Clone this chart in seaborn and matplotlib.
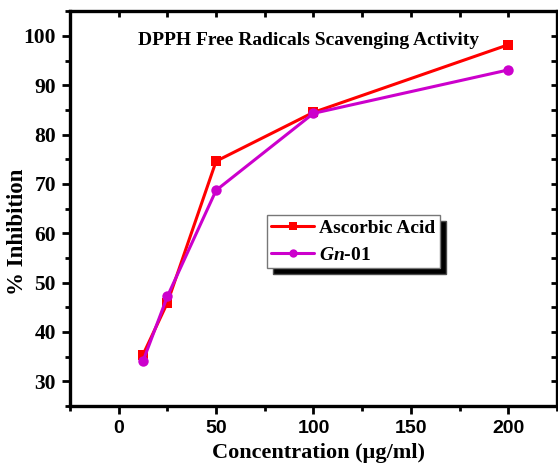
import matplotlib
matplotlib.use("Agg")
import matplotlib.pyplot as plt
import seaborn as sns
import pandas as pd
from matplotlib.ticker import MultipleLocator

concentration = [12.5, 25, 50, 100, 200]
ascorbic = [35.4, 45.9, 74.6, 84.5, 98.2]
gn01 = [34.1, 47.2, 68.7, 84.3, 93.1]
series_names = ["Ascorbic Acid", "$Gn$-01"]

df = pd.concat([
    pd.DataFrame({"x": concentration, "y": ascorbic, "s": series_names[0]}),
    pd.DataFrame({"x": concentration, "y": gn01, "s": series_names[1]}),
])

sns.set_style("ticks")
plt.rcParams["font.family"] = ["Liberation Serif", "DejaVu Serif"]
plt.rcParams["font.weight"] = "bold"
plt.rcParams["mathtext.fontset"] = "custom"
plt.rcParams["mathtext.it"] = "Liberation Serif:italic:bold"
plt.rcParams["mathtext.rm"] = "Liberation Serif:bold"
for k in ["text.color", "axes.labelcolor", "xtick.color", "ytick.color", "axes.edgecolor"]:
    plt.rcParams[k] = "black"

fig = plt.figure(figsize=(5.58, 4.66), dpi=100)
ax = fig.add_axes([0.1254, 0.1288, 0.8728, 0.8472])

sns.lineplot(data=df, x="x", y="y", hue="s", style="s",
             palette={series_names[0]: "#ff0000", series_names[1]: "#cc00cc"},
             markers={series_names[0]: "s", series_names[1]: "o"},
             dashes=False, linewidth=2.2, markersize=7.5, markeredgewidth=0,
             ax=ax, legend=True)

ax.set_xlim(-25, 225)
ax.set_ylim(25, 105)
ax.xaxis.set_major_locator(MultipleLocator(50))
ax.xaxis.set_minor_locator(MultipleLocator(25))
ax.yaxis.set_major_locator(MultipleLocator(10))
ax.yaxis.set_minor_locator(MultipleLocator(5))

for sp in ax.spines.values():
    sp.set_visible(True)
    sp.set_linewidth(2.4)
    sp.set_color("black")

ax.tick_params(which="major", direction="out", length=6, width=2, colors="black",
               top=False, right=False, pad=4)
ax.tick_params(which="minor", direction="out", length=3.5, width=2, colors="black",
               top=False, right=False)
for lab in ax.get_xticklabels():
    lab.set_fontfamily("Liberation Sans")
    lab.set_fontweight("bold")
    lab.set_fontsize(14)
for lab in ax.get_yticklabels():
    lab.set_fontfamily("Liberation Serif")
    lab.set_fontweight("bold")
    lab.set_fontsize(15.5)

# inward ticks on top / right
axt = ax.secondary_xaxis("top")
axt.xaxis.set_major_locator(MultipleLocator(25))
axt.tick_params(direction="in", length=4, width=2, labeltop=False)
axr = ax.secondary_yaxis("right")
axr.yaxis.set_major_locator(MultipleLocator(5))
axr.tick_params(direction="in", length=4, width=2, labelright=False)
axt.spines["top"].set_visible(False)
axr.spines["right"].set_visible(False)

ax.set_xlabel("Concentration (\u00b5g/ml)", fontsize=16, fontweight="bold", va="center")
ax.set_ylabel("% Inhibition", fontsize=16.5, fontweight="bold", va="center")
ax.xaxis.set_label_coords(0.51, -0.119)
ax.yaxis.set_label_coords(-0.108, 0.44)
ax.text(0.49, 0.927, "DPPH Free Radicals Scavenging Activity", transform=ax.transAxes,
        ha="center", va="center", fontsize=14, fontweight="bold")

handles, labels = ax.get_legend_handles_labels()
leg = ax.legend(handles, labels, loc="upper left", bbox_to_anchor=(0.4045, 0.4835),
                borderaxespad=0,
                frameon=True, fancybox=False, edgecolor="#777777", framealpha=1,
                shadow={"ox": 4.3, "oy": -4.3, "facecolor": "black", "alpha": 1},
                prop={"family": "Liberation Serif", "weight": "bold", "size": 14},
                handlelength=2.2, borderpad=0.22, labelspacing=0.48, handletextpad=0.26)
leg.get_frame().set_linewidth(1)
for h in leg.legend_handles:
    h.set_markersize(6)

fig.savefig("out.png", dpi=100)
